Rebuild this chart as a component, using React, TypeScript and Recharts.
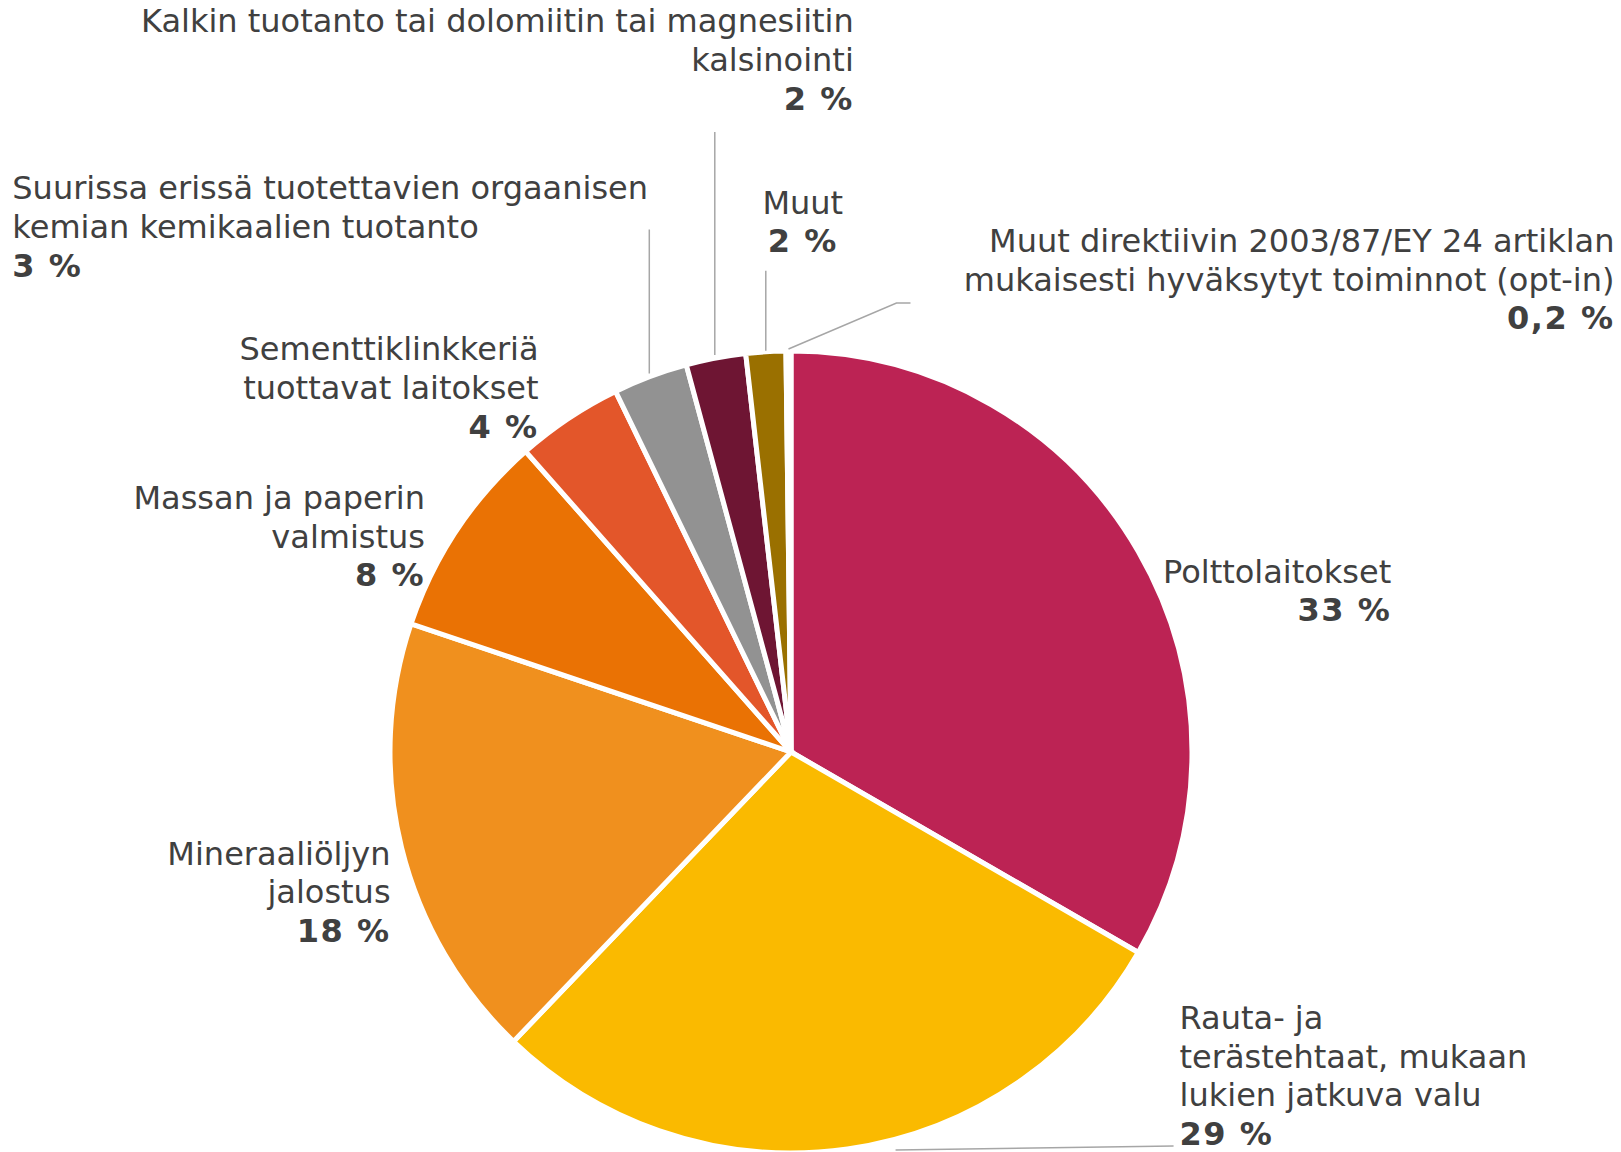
import React from "react";
import { PieChart, Pie, Cell } from "recharts";

const categories = [
  "Polttolaitokset",
  "Rauta- ja terästehtaat, mukaan lukien jatkuva valu",
  "Mineraaliöljyn jalostus",
  "Massan ja paperin valmistus",
  "Sementtiklinkkeriä tuottavat laitokset",
  "Suurissa erissä tuotettavien orgaanisen kemian kemikaalien tuotanto",
  "Kalkin tuotanto tai dolomiitin tai magnesiitin kalsinointi",
  "Muut",
  "Muut direktiivin 2003/87/EY 24 artiklan mukaisesti hyväksytyt toiminnot (opt-in)",
];

const shares = [33.3, 28.8, 18.0, 8.3, 4.3, 3.0, 2.4, 1.6, 0.2];

const shareLabels = ["33 %", "29 %", "18 %", "8 %", "4 %", "3 %", "2 %", "2 %", "0,2 %"];

// wrapped label text as in the original
const labelLines = [
  ["Polttolaitokset"],
  ["Rauta- ja", "terästehtaat, mukaan", "lukien jatkuva valu"],
  ["Mineraaliöljyn", "jalostus"],
  ["Massan ja paperin", "valmistus"],
  ["Sementtiklinkkeriä", "tuottavat laitokset"],
  ["Suurissa erissä tuotettavien orgaanisen", "kemian kemikaalien tuotanto"],
  ["Kalkin tuotanto tai dolomiitin tai magnesiitin", "kalsinointi"],
  ["Muut"],
  ["Muut direktiivin 2003/87/EY 24 artiklan", "mukaisesti hyväksytyt toiminnot (opt-in)"],
];

const colors = [
  "#BC2354",
  "#FABA00",
  "#F0901E",
  "#EA7204",
  "#E3562A",
  "#929292",
  "#6E1533",
  "#9A7000",
  "#E2C496",
];

// label placement relative to the slice's outer mid point
type Layout = {
  dx: number;
  dy: number;
  anchor: "start" | "middle" | "end";
  leader?: [number, number][];
};

const layout: Layout[] = [
  { dx: 253, dy: 20, anchor: "end" },
  { dx: 332, dy: -131, anchor: "start", leader: [[48, 1], [326, -3]] },
  { dx: -11, dy: 6, anchor: "end" },
  { dx: -32, dy: -32, anchor: "end" },
  { dx: -30, dy: -69, anchor: "end" },
  { dx: -638, dy: -188, anchor: "start", leader: [[-1, -3], [-1, -147]] },
  { dx: 138, dy: -337, anchor: "end", leader: [[-1, -3], [-1, -226]] },
  { dx: 37, dy: -149, anchor: "middle", leader: [[0, -1], [0, -81]] },
  { dx: 826, dy: -110, anchor: "end", leader: [[0, -2], [108, -48], [122, -48]] },
];

const data = categories.map((name, i) => ({ name, value: shares[i] }));

const RADIAN = Math.PI / 180;
const FONT = "'DejaVu Sans', Verdana, sans-serif";
const FONT_SIZE = 32;
const LINE_H = 38.7;
const TEXT_COLOR = "#404040";

function renderLabel(props: any) {
  const { cx, cy, midAngle, outerRadius, index } = props;
  const lay = layout[index];
  const px = cx + outerRadius * Math.cos(-midAngle * RADIAN);
  const py = cy + outerRadius * Math.sin(-midAngle * RADIAN);
  const tx = px + lay.dx;
  const ty = py + lay.dy;
  const lines = labelLines[index];
  return (
    <g key={`lbl-${index}`}>
      {lay.leader && (
        <polyline
          points={lay.leader.map(([x, y]) => `${px + x},${py + y}`).join(" ")}
          fill="none"
          stroke="#A6A6A6"
          strokeWidth={1.5}
        />
      )}
      {lines.map((line, i) => (
        <text
          key={i}
          x={tx}
          y={ty + i * LINE_H}
          textAnchor={lay.anchor}
          dominantBaseline="central"
          fontFamily={FONT}
          fontSize={FONT_SIZE}
          fill={TEXT_COLOR}
        >
          {line}
        </text>
      ))}
      <text
        x={tx}
        y={ty + lines.length * LINE_H}
        textAnchor={lay.anchor}
        dominantBaseline="central"
        fontFamily={FONT}
        fontSize={FONT_SIZE}
        fontWeight="bold"
        letterSpacing={1.5}
        fill={TEXT_COLOR}
      >
        {shareLabels[index]}
      </text>
    </g>
  );
}

export default function App() {
  return (
    <div style={{ position: "absolute", left: 0, top: 0 }}>
      <PieChart width={1621} height={1152} margin={{ top: 0, right: 0, bottom: 0, left: 0 }}>
        <Pie
          data={data}
          dataKey="value"
          nameKey="name"
          cx={791}
          cy={752}
          outerRadius={401}
          startAngle={90}
          endAngle={-270}
          stroke="#FFFFFF"
          strokeWidth={5}
          label={renderLabel}
          labelLine={false}
          isAnimationActive={false}
        >
          {data.map((entry, index) => (
            <Cell key={entry.name} fill={colors[index]} />
          ))}
        </Pie>
      </PieChart>
    </div>
  );
}
